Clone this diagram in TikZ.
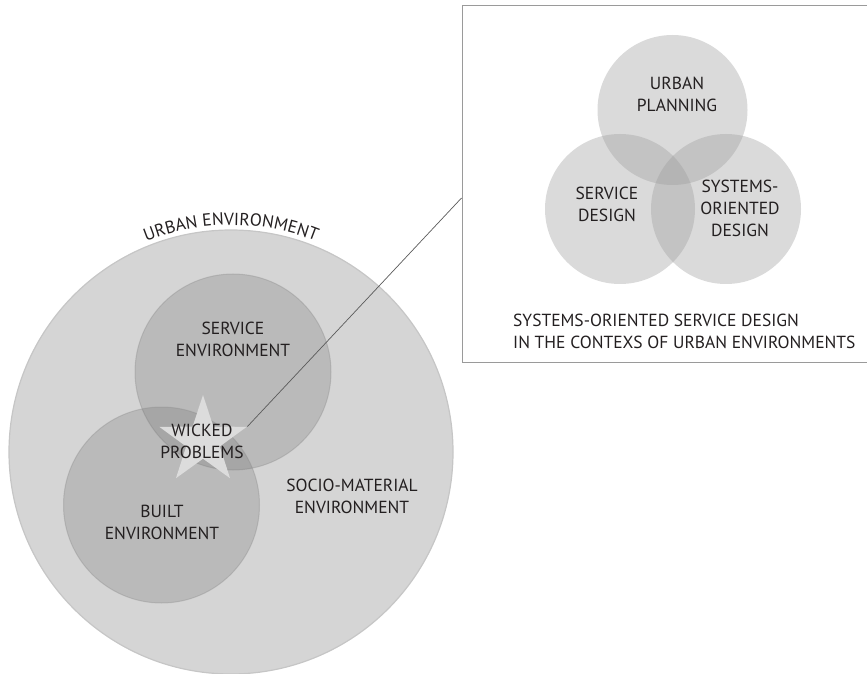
\documentclass[tikz,border=0pt]{standalone}
\usepackage{fontspec}
\setmainfont{PT Sans}
\usetikzlibrary{decorations.text,shapes.geometric}
\definecolor{bigfill}{HTML}{D5D5D5}
\definecolor{bigedge}{HTML}{C6C6C6}
\definecolor{innerc}{HTML}{6D6D6D}
\definecolor{inneredge}{HTML}{8A8A8A}
\definecolor{starc}{HTML}{DCDCDC}
\definecolor{vennc}{HTML}{9D9D9D}
\definecolor{boxc}{HTML}{9A9A9A}
\definecolor{linec}{HTML}{5A5A5A}
\definecolor{txt}{HTML}{231F20}
\newcommand{\lblfont}{\fontsize{17.5}{22}\selectfont}
\begin{document}
\begin{tikzpicture}[x=1pt,y=1pt,
  lbl/.style={font=\lblfont, align=center, text=txt, inner sep=0pt},
  innercirc/.style={circle, minimum size=196pt, inner sep=0pt, fill=innerc, fill opacity=0.26, draw=inneredge, draw opacity=0.35, line width=1pt},
  venncirc/.style={circle, minimum size=150pt, inner sep=0pt, fill=vennc, fill opacity=0.38}]
\useasboundingbox (0,0) rectangle (867,673);
% zoom box
\node[draw=boxc, line width=1.1pt, minimum width=408pt, minimum height=357pt, inner sep=0pt, anchor=north west] (box) at (461.5,668) {};
\coordinate (zoomend) at (461.5,475);
% urban environment
\node[circle, minimum size=444pt, inner sep=0pt, fill=bigfill, draw=bigedge, line width=1.2pt] (urban) at (231,221) {};
\path[decorate, decoration={text along path, text={|\lblfont\color{txt}|URBAN ENVIRONMENT}, text align=center}]
  (231,221) ++(116:227) arc[start angle=116, end angle=64, radius=227];
\node[innercirc] (service) at (233,301) {};
\node[innercirc] (built) at (161.5,168) {};
\node[star, star points=5, star point ratio=2.6, minimum size=92pt, inner sep=0pt, fill=starc] (wicked) at (203,232) {};
\draw[linec, line width=0.7pt] (wicked.outer point 5) -- (zoomend);
\node[lbl] (servicet) at (233,333.5) {SERVICE\\ENVIRONMENT};
\node[lbl] (builtt) at (162,150.5) {BUILT\\ENVIRONMENT};
\node[lbl] (wickedt) at (202,231.5) {WICKED\\PROBLEMS};
\node[lbl] (sociot) at (352,177) {SOCIO-MATERIAL\\ENVIRONMENT};
% venn
\node[venncirc] (planning) at (672.5,563) {};
\node[venncirc] (sdesign) at (620,464) {};
\node[venncirc] (sodesign) at (726,464) {};
\node[lbl] (planningt) at (677,578.5) {URBAN\\PLANNING};
\node[lbl] (sdesignt) at (607,469) {SERVICE\\DESIGN};
\node[lbl] (sodesignt) at (740,465) {SYSTEMS-\\ORIENTED\\DESIGN};
\node[lbl, align=left, anchor=west] (caption) at (513,341.5) {SYSTEMS-ORIENTED SERVICE DESIGN\\IN THE CONTEXS OF URBAN ENVIRONMENTS};
\end{tikzpicture}
\end{document}
